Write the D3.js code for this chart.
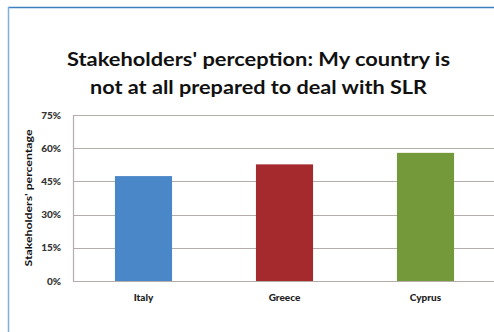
<!DOCTYPE html>
<html>
<head>
<meta charset="utf-8">
<script src="https://cdn.jsdelivr.net/npm/d3@7"></script>
<style>
html,body{margin:0;padding:0;background:#fff;}
svg{display:block;}
</style>
</head>
<body>
<script>
const categories = ["Italy", "Greece", "Cyprus"];
const values = [47.4, 52.7, 57.9];
const colors = ["#4a87c9", "#a52a2e", "#74993b"];
const yTicks = [0, 15, 30, 45, 60, 75];
const titleLines = ["Stakeholders' perception: My country is", "not at all prepared to deal with SLR"];
const yTitle = "Stakeholders' percentage";

const W = 494, H = 332;
const svg = d3.select("body").append("svg").attr("width", W).attr("height", H);

// frame borders
svg.append("line").attr("x1", 8).attr("x2", W).attr("y1", 7.5).attr("y2", 7.5)
  .attr("stroke", "#3f7fbf").attr("stroke-width", 1.3);
svg.append("line").attr("x1", 8.5).attr("x2", 8.5).attr("y1", 7).attr("y2", H)
  .attr("stroke", "#7fb0dc").attr("stroke-width", 1.5);

const plot = {left: 73, right: 496, top: 115, bottom: 281};
const x = d3.scaleBand().domain(categories).range([plot.left, plot.right])
  .paddingInner(0.595).paddingOuter(0.2975);
const y = d3.scaleLinear().domain([0, 75]).range([plot.bottom, plot.top]);

// gridlines
svg.append("g").selectAll("line").data(yTicks).join("line")
  .attr("x1", plot.left).attr("x2", W)
  .attr("y1", d => Math.round(y(d)) + 0.5).attr("y2", d => Math.round(y(d)) + 0.5)
  .attr("stroke", "#b5adab").attr("stroke-width", 1.2);
svg.append("line").attr("x1", plot.left + 0.5).attr("x2", plot.left + 0.5)
  .attr("y1", plot.top).attr("y2", plot.bottom + 1)
  .attr("stroke", "#b5adab").attr("stroke-width", 1.2);

// bars
svg.append("g").selectAll("rect").data(categories).join("rect")
  .attr("x", d => x(d)).attr("width", x.bandwidth())
  .attr("y", (d, i) => y(values[i])).attr("height", (d, i) => y(0) - y(values[i]))
  .attr("fill", (d, i) => colors[i]);

// y tick labels
svg.append("g").selectAll("text").data(yTicks).join("text")
  .attr("x", 61).attr("y", d => y(d)).attr("dy", "0.35em")
  .attr("text-anchor", "end")
  .style("font-family", "Lato, 'Open Sans', sans-serif").style("font-weight", "900")
  .style("font-size", "10px").attr("fill", "#333")
  .text(d => d + "%");

// x labels
svg.append("g").selectAll("text").data(categories).join("text")
  .attr("x", d => x(d) + x.bandwidth() / 2).attr("y", 301)
  .attr("text-anchor", "middle")
  .style("font-family", "Lato, 'Open Sans', sans-serif").style("font-weight", "900")
  .style("font-size", "10px").attr("fill", "#222")
  .text(d => d);

// y title
svg.append("text")
  .attr("transform", "translate(32,198) rotate(-90)")
  .attr("text-anchor", "middle")
  .style("font-family", "Lato, 'Open Sans', sans-serif").style("font-weight", "bold")
  .style("font-size", "10px").attr("fill", "#111")
  .attr("textLength", 137).attr("lengthAdjust", "spacingAndGlyphs")
  .text(yTitle);

// title
const tl = [383, 337];
const tb = [66, 94];
titleLines.forEach((t, i) => {
  svg.append("text")
    .attr("x", 258.5).attr("y", tb[i]).attr("text-anchor", "middle")
    .style("font-family", "Lato, 'Open Sans', sans-serif").style("font-weight", "bold")
    .style("font-size", "19.5px").attr("fill", "#111")
    .attr("textLength", tl[i]).attr("lengthAdjust", "spacingAndGlyphs")
    .text(t);
});
</script>
</body>
</html>
